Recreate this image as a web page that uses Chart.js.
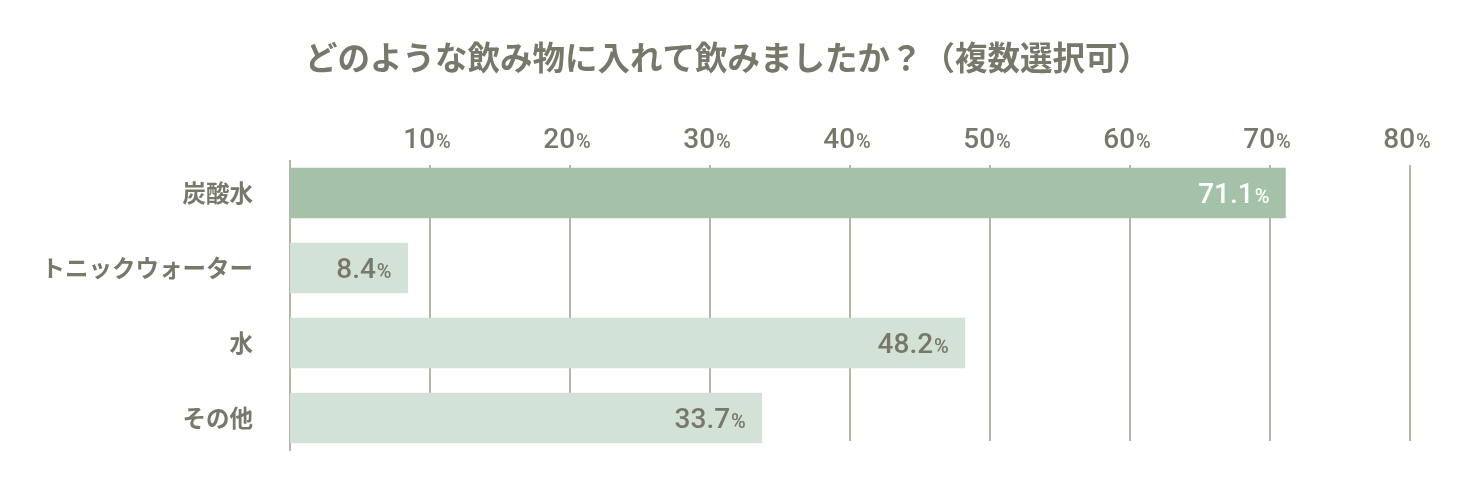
<!DOCTYPE html>
<html>
<head>
  <meta charset="utf-8">
  <title>飲み物アンケート</title>
  <script src="https://cdn.jsdelivr.net/npm/chart.js"></script>
  <style>
    body {
      margin: 0;
      background: #fff;
    }
    #wrap {
      width: 1460px;
      height: 487px;
    }
  </style>
</head>
<body>
  <div id="wrap">
    <canvas id="chart" width="1460" height="487"></canvas>
  </div>

  <script>
    // data
    const titleText = 'どのような飲み物に入れて飲みましたか？（複数選択可）';
    const categories = ['炭酸水', 'トニックウォーター', '水', 'その他'];
    const values = [71.1, 8.4, 48.2, 33.7];
    const tickValues = [10, 20, 30, 40, 50, 60, 70, 80];

    const textColor = '#78786a';
    const gridColor = '#b7b5aa';
    const numFont = 'Roboto, "Noto Sans", sans-serif';
    const jpFont = '"Noto Sans CJK JP", "Noto Sans", sans-serif';

    // draws "12.3" big and "%" small, right edge at xRight
    function drawPercent(ctx, num, xRight, y, color) {
      ctx.save();
      ctx.textBaseline = 'alphabetic';
      ctx.fillStyle = color;
      ctx.font = '500 20px ' + numFont;
      const pctW = ctx.measureText('%').width;
      ctx.textAlign = 'right';
      ctx.fillText('%', xRight, y);
      ctx.font = '500 28px ' + numFont;
      ctx.fillText(num, xRight - pctW - 1, y);
      ctx.restore();
    }

    function percentWidth(ctx, num) {
      ctx.save();
      ctx.font = '500 20px ' + numFont;
      const a = ctx.measureText('%').width;
      ctx.font = '500 28px ' + numFont;
      const b = ctx.measureText(num).width;
      ctx.restore();
      return a + b + 1;
    }

    const decorPlugin = {
      id: 'decor',
      beforeDatasetsDraw(chart) {
        const ctx = chart.ctx;
        const x = chart.scales.x;

        // title
        ctx.save();
        ctx.fillStyle = textColor;
        ctx.font = 'bold 32.5px ' + jpFont;
        ctx.textAlign = 'left';
        ctx.textBaseline = 'middle';
        ctx.fillText(titleText, 305, 58);
        ctx.restore();

        ctx.save();
        ctx.strokeStyle = gridColor;
        ctx.lineWidth = 2;
        // vertical grid lines
        tickValues.forEach(v => {
          const px = Math.round(x.getPixelForValue(v));
          ctx.beginPath();
          ctx.moveTo(px, 165);
          ctx.lineTo(px, 441);
          ctx.stroke();
        });
        // zero line
        const px0 = Math.round(x.getPixelForValue(0));
        ctx.beginPath();
        ctx.moveTo(px0, 160);
        ctx.lineTo(px0, 451);
        ctx.stroke();
        ctx.restore();

        // tick labels on top
        tickValues.forEach(v => {
          const px = x.getPixelForValue(v);
          const s = String(v);
          const w = percentWidth(ctx, s);
          drawPercent(ctx, s, px - 3 + w / 2, 148, textColor);
        });
      },
      afterDatasetsDraw(chart) {
        const ctx = chart.ctx;
        const meta = chart.getDatasetMeta(0);
        meta.data.forEach((bar, i) => {
          const color = i === 0 ? '#ffffff' : textColor;
          drawPercent(ctx, values[i].toFixed(1), bar.x - 16, bar.y + 10, color);
        });
      }
    };

    const ctx = document.getElementById('chart').getContext('2d');
    const chart = new Chart(ctx, {
      type: 'bar',
      data: {
        labels: categories,
        datasets: [{
          data: values,
          backgroundColor: ['#a3c2a8', '#d3e2d6', '#d3e2d6', '#d3e2d6'],
          borderWidth: 0,
          barThickness: 50
        }]
      },
      options: {
        indexAxis: 'y',
        responsive: false,
        animation: false,
        devicePixelRatio: 1,
        layout: {
          padding: { left: 0, right: 50, top: 155.5, bottom: 31.5 }
        },
        plugins: {
          legend: { display: false },
          tooltip: { enabled: false },
          title: { display: false }
        },
        scales: {
          x: {
            display: false,
            min: 0,
            max: 80
          },
          y: {
            grid: { display: false, drawTicks: false },
            border: { display: false },
            ticks: {
              color: textColor,
              padding: 37,
              font: { family: jpFont, size: 23.5, weight: 'bold' }
            },
            afterFit(scale) {
              scale.width = 290;
              scale.paddingTop = 0;
              scale.paddingBottom = 0;
            }
          }
        }
      },
      plugins: [decorPlugin]
    });
  </script>
</body>
</html>
